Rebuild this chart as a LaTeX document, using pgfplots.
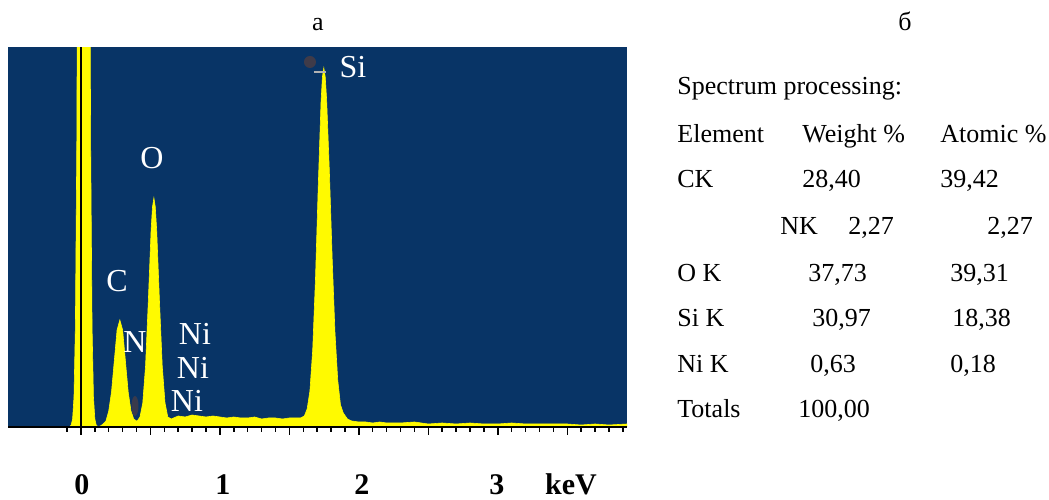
\documentclass[border=0pt]{standalone}
\usepackage{fontspec}
\setmainfont{Liberation Serif}
\usepackage{pgfplots}
\pgfplotsset{compat=1.18}
\definecolor{edsBlue}{RGB}{8,52,102}
\definecolor{edsYellow}{RGB}{255,250,0}
\definecolor{markGrey}{RGB}{70,60,70}

\begin{document}
\begin{tikzpicture}
\path[use as bounding box] (0,0) rectangle (524.5bp,250bp);
\begin{axis}[
    at={(4bp,36.5bp)}, anchor=south west,
    scale only axis, width=309.5bp, height=190bp,
    xmin=-0.525, xmax=3.93, ymin=0, ymax=380,
    axis x line=bottom, axis y line=none,
    x axis line style={-, line width=0.75bp},
    axis background/.style={fill=edsBlue},
    xtick={0,0.5,...,3.5}, xticklabels={},
    minor xtick={-0.1,0,...,3.9},
    tick align=outside,
    major tick length=4bp, minor tick length=2.5bp,
    every tick/.style={black, line width=0.75bp},
    ytick=\empty,
    axis on top,
  ]
  % EDS spectrum, counts in arbitrary units
  \addplot[fill=edsYellow, draw=edsYellow, line width=0.3bp] coordinates {
    (-0.525,0) (-0.095,0) (-0.08,0.5) (-0.07,2) (-0.06,8) (-0.05,30)
    (-0.04,100) (-0.03,280) (-0.02,640) (0.02,2900) (0.06,640) (0.07,280)
    (0.08,100) (0.09,30) (0.10,8) (0.11,2) (0.12,0.5) (0.14,1)
    (0.16,3) (0.18,6) (0.20,16) (0.22,35) (0.24,66) (0.26,97) (0.28,107)
    (0.30,97) (0.32,66) (0.34,35) (0.36,16) (0.38,8) (0.40,6) (0.405,6)
    (0.425,10) (0.445,24) (0.465,61) (0.485,126) (0.505,197) (0.515,220)
    (0.525,229) (0.535,220) (0.545,197) (0.565,126) (0.585,61) (0.605,24)
    (0.625,10) (0.65,8) (0.70,11) (0.75,10) (0.80,12) (0.85,11) (0.90,10)
    (0.95,11) (1.00,10) (1.05,9) (1.10,10) (1.15,9) (1.20,9) (1.25,10)
    (1.30,8) (1.35,9) (1.40,9) (1.45,8) (1.50,9) (1.55,9) (1.58,9)
    (1.608,11) (1.628,18) (1.648,36) (1.668,77) (1.688,148) (1.708,241)
    (1.728,325) (1.738,350) (1.748,359) (1.758,350) (1.768,328) (1.788,255)
    (1.808,169) (1.828,95) (1.848,47) (1.868,22) (1.888,14) (1.918,8)
    (1.948,6) (2.00,5) (2.05,5) (2.10,4) (2.15,5) (2.20,4) (2.30,4)
    (2.40,5) (2.50,3) (2.60,4) (2.70,3) (2.80,4) (2.90,3) (3.00,3)
    (3.10,4) (3.20,3) (3.30,3) (3.40,3) (3.50,3) (3.60,2) (3.70,3)
    (3.80,2) (3.93,3)
  } \closedcycle;
  % zero marker line
  \addplot[black, line width=0.75bp] coordinates {(0,0) (0,380)};
\end{axis}

% annotations, typed in pixel coordinates of the reference (y downward)
\begin{scope}[x=0.5bp, y=-0.5bp, shift={(0bp,250bp)}]
  \fill[markGrey, opacity=0.8] (135,406) ellipse (3.5 and 10);
  \fill[markGrey, opacity=0.9] (310,62) circle (6);
  \draw[gray!60, line width=0.6bp] (314,72) -- (326,72);

  \begin{scope}[every node/.style={text=white, font=\fontsize{16bp}{19bp}\selectfont, inner sep=0pt}]
    \node at (152,158) {O};
    \node at (117,281) {C};
    \node at (135,342) {N};
    \node at (195,334) {Ni};
    \node at (193,368) {Ni};
    \node at (187,401) {Ni};
    \node at (353,67) {Si};
  \end{scope}

  \begin{scope}[every node/.style={font=\bfseries\fontsize{15bp}{18bp}\selectfont, inner sep=0pt, anchor=base}]
    \node at (82,495) {0};
    \node at (223,495) {1};
    \node at (362,495) {2};
    \node at (497,495) {3};
    \node at (571,495) {keV};
  \end{scope}

  \begin{scope}[every node/.style={font=\fontsize{13bp}{16bp}\selectfont, inner sep=0pt, anchor=base west}]
    \node[anchor=base] at (318,31) {а};
    \node[anchor=base] at (905,31) {б};
    \node at (677,95) {Spectrum processing:};
    \node at (677,143) {Element};
    \node at (802,143) {Weight \%};
    \node at (940,143) {Atomic \%};
    \node at (677,188) {CK};
    \node at (802,188) {28,40};
    \node at (940,188) {39,42};
    \node at (780,235) {NK};
    \node at (848,235) {2,27};
    \node at (987,235) {2,27};
    \node at (677,282) {O K};
    \node at (808,282) {37,73};
    \node at (950,282) {39,31};
    \node at (677,327) {Si K};
    \node at (812,327) {30,97};
    \node at (952,327) {18,38};
    \node at (677,373) {Ni K};
    \node at (810,373) {0,63};
    \node at (950,373) {0,18};
    \node at (677,418) {Totals};
    \node at (798,418) {100,00};
  \end{scope}
\end{scope}
\end{tikzpicture}
\end{document}
